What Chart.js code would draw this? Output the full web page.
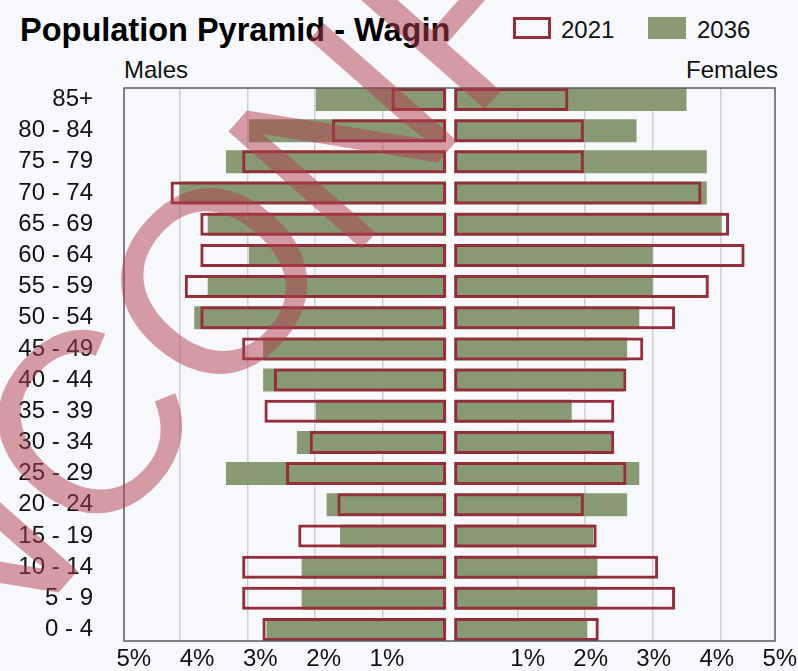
<!DOCTYPE html>
<html>
<head>
<meta charset="utf-8">
<title>Population Pyramid - Wagin</title>
<script src="https://cdn.jsdelivr.net/npm/chart.js@4.4.1/dist/chart.umd.min.js"></script>
<style>
  html, body { margin: 0; padding: 0; background: #f6f8fc; }
  #wrap { position: relative; width: 798px; height: 671px; overflow: hidden;
          font-family: "Liberation Sans", Arial, sans-serif; color: #111; }
  #title { position: absolute; left: 20px; top: 14px; font-size: 32.5px; line-height: 32px;
           font-weight: bold; white-space: nowrap; color: #000; }
  .txt { position: absolute; font-size: 24px; line-height: 24px; white-space: nowrap; }
  .box { position: absolute; top: 17px; width: 38px; height: 22px; box-sizing: border-box; }
  canvas { position: absolute; left: 0; top: 0; }
</style>
</head>
<body>
<div id="wrap">
  <div id="title">Population Pyramid - Wagin</div>
  <div class="box" id="box2021"></div>
  <div class="txt" id="lab2021" style="left:561px; top:18px;"></div>
  <div class="box" id="box2036"></div>
  <div class="txt" id="lab2036" style="left:697px; top:18px;"></div>
  <div class="txt" style="left:124px; top:58px;">Males</div>
  <div class="txt" style="right:20px; top:58px;">Females</div>
  <canvas id="pyramid" width="798" height="671"></canvas>
</div>
<script>
// Age groups, youngest first (drawn bottom to top)
const ageGroups = ['0 - 4', '5 - 9', '10 - 14', '15 - 19', '20 - 24', '25 - 29',
  '30 - 34', '35 - 39', '40 - 44', '45 - 49', '50 - 54', '55 - 59',
  '60 - 64', '65 - 69', '70 - 74', '75 - 79', '80 - 84', '85+'];

// Share of total population (%)
const male2021   = [2.78, 3.08, 3.08, 2.25, 1.67, 2.43, 2.08, 2.75, 2.61, 3.08, 3.70, 3.93, 3.70, 3.70, 4.14, 3.08, 1.75, 0.87];
const male2036   = [2.72, 2.20, 2.20, 1.63, 1.83, 3.32, 2.27, 1.99, 2.77, 2.77, 3.79, 3.59, 2.98, 3.59, 4.01, 3.32, 2.98, 1.99];
const female2021 = [2.20, 3.33, 3.08, 2.17, 1.98, 2.61, 2.43, 2.43, 2.61, 2.86, 3.33, 3.83, 4.36, 4.13, 3.72, 1.98, 1.98, 1.75];
const female2036 = [2.03, 2.18, 2.18, 2.12, 2.62, 2.80, 2.40, 1.80, 2.58, 2.62, 2.80, 3.00, 3.00, 4.02, 3.80, 3.80, 2.76, 3.50];

const seriesNames = ['2021', '2036'];
const maleTickLabels   = ['1%', '2%', '3%', '4%', '5%'];
const femaleTickLabels = ['1%', '2%', '3%', '4%', '5%'];
const gridValues = [-4, -3, -2, -1, 0, 1, 2, 3, 4];

const RED = '#962d3a';
const GREEN = '#879a73';
const WATERMARK = 'UNCONFIRMED';

// legend swatches
document.getElementById('lab2021').textContent = seriesNames[0];
document.getElementById('lab2036').textContent = seriesNames[1];
Object.assign(document.getElementById('box2021').style, { left: '513px', border: '3px solid ' + RED });
Object.assign(document.getElementById('box2036').style, { left: '648px', background: GREEN });

// small gap either side of the centre line
const GAP = 0.06;
const rows = (vals, sign) => vals.map((v, i) => ({ x: sign * v, y: i }));

// where the percentage labels sit on the value axis
const labelSpots = [
  ...maleTickLabels.map((t, i) => -0.937 * (i + 1)),
  ...femaleTickLabels.map((t, i) => 0.215 + 0.933 * (i + 1))
];
const allTickLabels = [...maleTickLabels, ...femaleTickLabels];

// keep tick labels from pushing the plot area around
const noOverhang = s => { s.paddingTop = 0; s.paddingBottom = 0; s.paddingLeft = 0; s.paddingRight = 0; };

// white channel between the male and female halves
const centreChannel = {
  id: 'centreChannel',
  beforeDatasetsDraw(chart) {
    const { ctx, chartArea: a, scales: { x } } = chart;
    const l = x.getPixelForValue(-GAP), r = x.getPixelForValue(GAP);
    ctx.save();
    ctx.fillStyle = '#ffffff';
    ctx.fillRect(l, a.top, r - l, a.bottom - a.top);
    ctx.restore();
  }
};

const frame = {
  id: 'frame',
  afterDatasetsDraw(chart) {
    const { ctx, chartArea: a } = chart;
    ctx.save();
    ctx.strokeStyle = '#5a5a5a';
    ctx.lineWidth = 1.5;
    ctx.strokeRect(a.left, a.top, a.right - a.left, a.bottom - a.top);
    ctx.restore();
  }
};

const watermark = {
  id: 'watermark',
  afterDraw(chart) {
    const ctx = chart.ctx;
    const size = 258;
    ctx.save();
    ctx.font = size + 'px "Liberation Sans", Arial, sans-serif';
    ctx.fillStyle = 'rgba(177, 62, 78, 0.5)';
    ctx.textBaseline = 'alphabetic';
    ctx.translate(84, 424);
    ctx.rotate(-48.6 * Math.PI / 180);
    const pre = ctx.measureText('UN').width;
    const c = ctx.measureText('C').width;
    ctx.fillText(WATERMARK, -pre - c / 2, size * 0.358);
    ctx.restore();
  }
};

const barCommon = { grouped: false, categoryPercentage: 0.738, barPercentage: 1 };

new Chart(document.getElementById('pyramid'), {
  type: 'bar',
  data: {
    datasets: [
      { ...barCommon, label: seriesNames[0], data: rows(male2021, -1), base: -GAP,
        backgroundColor: 'rgba(0,0,0,0)', borderColor: RED, borderWidth: 3, borderSkipped: false, order: 1 },
      { ...barCommon, label: seriesNames[0], data: rows(female2021, 1), base: GAP,
        backgroundColor: 'rgba(0,0,0,0)', borderColor: RED, borderWidth: 3, borderSkipped: false, order: 1 },
      { ...barCommon, label: seriesNames[1], data: rows(male2036, -1), base: -GAP,
        backgroundColor: GREEN, borderWidth: 0, order: 2 },
      { ...barCommon, label: seriesNames[1], data: rows(female2036, 1), base: GAP,
        backgroundColor: GREEN, borderWidth: 0, order: 2 }
    ]
  },
  options: {
    indexAxis: 'y',
    responsive: false,
    devicePixelRatio: 1,
    animation: false,
    layout: { padding: { top: 88, right: 23, left: 0, bottom: 0 } },
    plugins: { legend: { display: false }, title: { display: false }, tooltip: { enabled: false } },
    scales: {
      x: {
        type: 'linear', min: -4.83, max: 4.81, z: 1,
        afterBuildTicks: s => { s.ticks = gridValues.map(v => ({ value: v })); },
        afterFit: s => { s.height = 0; noOverhang(s); },
        ticks: { display: false },
        grid: { color: 'rgba(0,0,0,0.16)', lineWidth: 1.5, drawTicks: false },
        border: { display: false }
      },
      xl: {
        type: 'linear', axis: 'x', position: 'bottom', min: -4.83, max: 4.81,
        afterBuildTicks: s => { s.ticks = labelSpots.map(v => ({ value: v })); },
        afterFit: s => { s.height = 30; noOverhang(s); },
        ticks: {
          autoSkip: false, maxRotation: 0, padding: 4, color: '#111',
          font: { family: '"Liberation Sans", Arial, sans-serif', size: 24 },
          callback: (v, i) => allTickLabels[i]
        },
        grid: { display: false, drawTicks: false },
        border: { display: false }
      },
      y: {
        type: 'linear', offset: false, min: -0.369, max: ageGroups.length - 1 + 0.369,
        afterBuildTicks: s => { s.ticks = ageGroups.map((g, i) => ({ value: i })); },
        afterFit: s => { s.width = 124; noOverhang(s); },
        ticks: {
          autoSkip: false, padding: 31, color: '#111',
          font: { family: '"Liberation Sans", Arial, sans-serif', size: 24 },
          callback: v => ageGroups[v]
        },
        grid: { display: false, drawTicks: false, offset: false },
        border: { display: false }
      }
    }
  },
  plugins: [centreChannel, frame, watermark]
});
</script>
</body>
</html>
